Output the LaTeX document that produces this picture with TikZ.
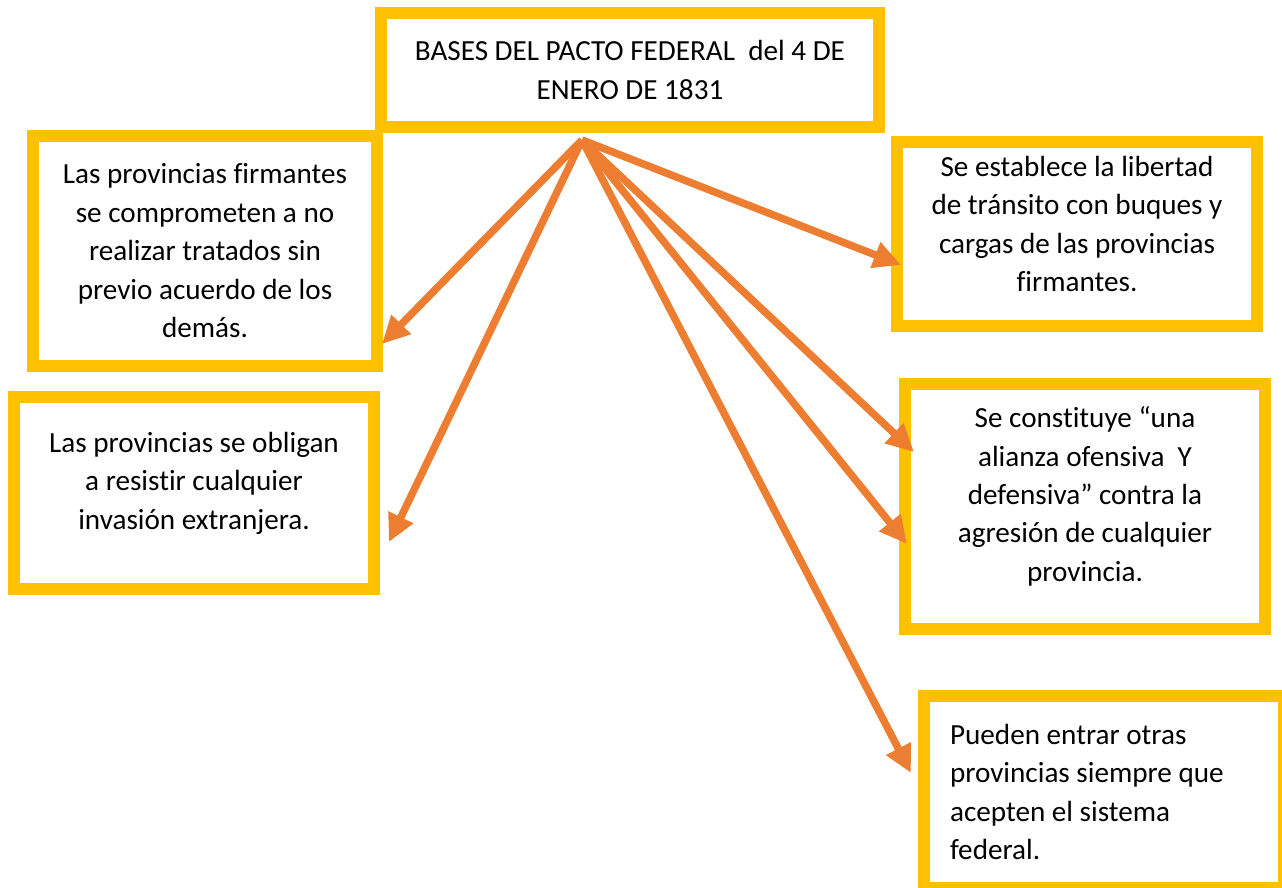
\documentclass[tikz,border=0pt]{standalone}
\usepackage{fontspec}
\setmainfont{Carlito}[Ligatures=CommonOff]
\usetikzlibrary{arrows.meta}
\definecolor{pactyellow}{HTML}{FFC000}
\definecolor{pactorange}{HTML}{ED7D31}

\begin{document}
\begin{tikzpicture}[x=0.02cm, y=-0.02cm,
    box/.style={draw=pactyellow, line width=0.24cm, fill=white, inner sep=0pt, align=center,
        font=\fontsize{16.6}{21.9}\selectfont},
    arr/.style={pactorange, line width=0.15cm, -{Triangle[length=0.55cm, width=0.52cm]}}]
            \useasboundingbox (0,0) rectangle (1282,888);
            \clip (0,0) rectangle (1282,888);

            \node[box, minimum width=9.96cm, minimum height=2.3cm] (pacto) at (630,70)
                {BASES DEL PACTO FEDERAL\ \ del 4 DE\\ENERO DE 1831};
            \node[box, minimum width=6.88cm, minimum height=4.6cm] (tratados) at (205,251)
                {Las provincias firmantes\\se comprometen a no\\realizar tratados sin\\previo acuerdo de los\\demás.};
            \node[box, minimum width=7.2cm, minimum height=3.83cm, text depth=0.5cm] (invasion) at (194,493)
                {Las provincias se obligan\\a resistir cualquier\\invasión extranjera.};
            \node[box, minimum width=7.19cm, minimum height=3.68cm, text depth=0.4cm] (transito) at (1077,234)
                {Se establece la libertad\\de tránsito con buques y\\cargas de las provincias\\firmantes.};
            \node[box, minimum width=7.2cm, minimum height=4.9cm, text depth=0.5cm] (alianza) at (1085,506.5)
                {Se constituye “una\\alianza ofensiva\ \ Y\\defensiva” contra la\\agresión de cualquier\\provincia.};
            \node[box, minimum width=7.2cm, minimum height=3.84cm, align=flush left, text width=6.16cm] (otras) at (1104,792)
                {Pueden entrar otras\\provincias siempre que\\acepten el sistema\\federal.};

            \coordinate (src) at (582,140);
            \coordinate (toTratados) at (382,344);
            \coordinate (toInvasion) at (389,542);
            \coordinate (toTransito) at (901,265);
            \coordinate (toAlianzaA) at (914,452);
            \coordinate (toAlianzaB) at (907,544);
            \coordinate (toOtras) at (911,773);

            \draw[arr] (src) -- (toTratados);
            \draw[arr] (src) -- (toInvasion);
            \draw[arr] (src) -- (toTransito);
            \draw[arr] (src) -- (toAlianzaA);
            \draw[arr] (src) -- (toAlianzaB);
            \draw[arr] (src) -- (toOtras);
        \end{tikzpicture}
\end{document}
